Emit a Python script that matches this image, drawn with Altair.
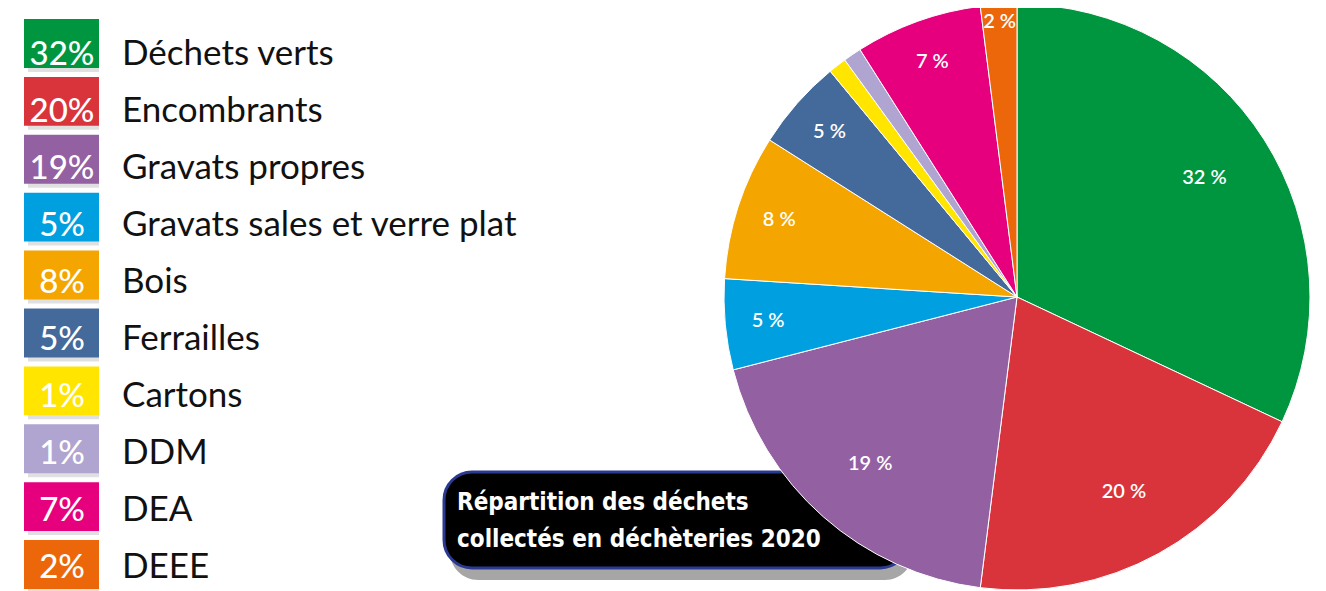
import altair as alt
import pandas as pd

categories = ["Déchets verts", "Encombrants", "Gravats propres", "Gravats sales et verre plat",
              "Bois", "Ferrailles", "Cartons", "DDM", "DEA", "DEEE"]
values = [32, 20, 19, 5, 8, 5, 1, 1, 7, 2]
colors = ["#009640", "#D9343B", "#9360A2", "#009FE0", "#F5A500",
          "#436A9B", "#FFE500", "#B0A4D0", "#E6007E", "#EB670A"]
title_lines = ["Répartition des déchets", "collectés en déchèteries 2020"]

df = pd.DataFrame({"cat": categories, "value": values, "idx": list(range(len(categories)))})
df["box"] = [f"{v}%" for v in values]
df["lab"] = [f"{v} %" if v >= 2 else "" for v in values]

W, H = 1310, 583
CX, CY, R = 1009, 289, 293

color = alt.Color("cat:N", scale=alt.Scale(domain=categories, range=colors), legend=None)
yband = alt.Y("cat:N", scale=alt.Scale(domain=categories, range=[11, 581], paddingInner=0.155, paddingOuter=0), axis=None)

base = alt.Chart(df)

# title box
tdf = pd.DataFrame({"line": title_lines, "i": [0, 1]})
shadow_box = alt.Chart(tdf).transform_filter("datum.i == 0").mark_rect(
    fill="#000000", opacity=0.35, cornerRadius=28).encode(
    x=alt.value(442), x2=alt.value(905), y=alt.value(474), y2=alt.value(572))
title_box = alt.Chart(tdf).transform_filter("datum.i == 0").mark_rect(
    fill="#000000", stroke="#2B3990", strokeWidth=3, cornerRadius=28).encode(
    x=alt.value(436), x2=alt.value(900), y=alt.value(464), y2=alt.value(560))
title_text = alt.Chart(tdf).mark_text(
    align="left", baseline="alphabetic", color="white",
    font="DejaVu Sans Condensed, Liberation Sans Narrow, Roboto",
    fontWeight="bold", fontSize=24).encode(
    x=alt.value(449),
    y=alt.Y("i:O", scale=alt.Scale(domain=[0, 1], range=[502, 539], type="point", padding=0), axis=None),
    text="line:N")

# legend
leg_shadow = base.mark_rect(fill="#000000", opacity=0.12, xOffset=4, yOffset=4).encode(
    x=alt.value(16), x2=alt.value(91), y=yband)
leg_box = base.mark_rect().encode(x=alt.value(16), x2=alt.value(91), y=yband, color=color)
leg_pct = base.mark_text(color="white", font="Lato", fontWeight=500, fontSize=33, align="center",
                         baseline="alphabetic", dy=17).encode(
    x=alt.value(54), y=yband, text="box:N")
leg_txt = base.mark_text(color="#111111", font="Lato", fontSize=35, align="left", baseline="alphabetic", dy=17).encode(
    x=alt.value(114), y=yband, text="cat:N")

# pie
pie = base.mark_arc(outerRadius=R, stroke="white", strokeWidth=1).encode(
    theta=alt.Theta("value:Q", stack=True), color=color, order=alt.Order("idx:Q"),
    x=alt.value(CX), y=alt.value(CY))
pie_lab = base.transform_window(
    cum="sum(value)", sort=[alt.SortField("idx")], frame=[None, 0]
).transform_calculate(
    mid="datum.cum - datum.value / 2",
    lr="datum.value >= 19 ? 222 : (datum.value >= 5 ? 250 : 276)"
).mark_text(color="white", font="Lato", fontWeight=600, fontSize=20, align="center", baseline="middle").encode(
    theta=alt.Theta("mid:Q", stack=None), radius=alt.Radius("lr:Q", scale=None),
    x=alt.value(CX), y=alt.value(CY), text="lab:N")

chart = alt.layer(shadow_box, title_box, title_text, leg_shadow, leg_box, leg_pct, leg_txt, pie, pie_lab).properties(
    width=W, height=H, padding=0, autosize=alt.AutoSizeParams(type="none")
).resolve_scale(y="independent").configure_view(stroke=None)

chart.save("out.html", embed_options={"renderer": "svg", "actions": False})
